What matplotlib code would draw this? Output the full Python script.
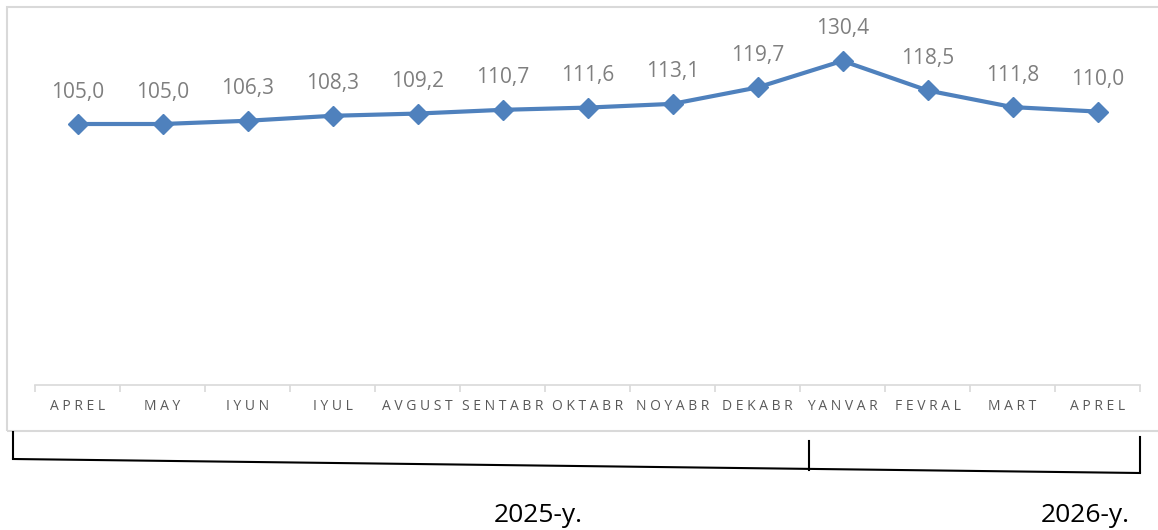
import matplotlib
matplotlib.use("Agg")
import matplotlib.pyplot as plt
from matplotlib.patches import Rectangle
from matplotlib.lines import Line2D

months = ["APREL", "MAY", "IYUN", "IYUL", "AVGUST", "SENTABR", "OKTABR",
          "NOYABR", "DEKABR", "YANVAR", "FEVRAL", "MART", "APREL"]
values = [105.0, 105.0, 106.3, 108.3, 109.2, 110.7, 111.6, 113.1, 119.7,
          130.4, 118.5, 111.8, 110.0]
years = ["2025-y.", "2026-y."]

W, H = 1158, 530
fig = plt.figure(figsize=(W / 100, H / 100), dpi=100)

def fx(px):
    return px / W

def fy(py):
    return 1 - py / H

# chart frame
fig.patches.append(Rectangle((fx(7), fy(431)), fx(1160) - fx(7), fy(7) - fy(431),
                             transform=fig.transFigure, fill=False,
                             edgecolor="#d9d9d9", linewidth=1.5))

ax = fig.add_axes([fx(35), fy(385), fx(1140) - fx(35), fy(37) - fy(385)])
x = list(range(len(values)))
ax.plot(x, values, color="#4F81BD", linewidth=3, marker="D", markersize=10,
        markeredgecolor="#4F81BD", markerfacecolor="#4F81BD", zorder=3)
for xi, v in zip(x, values):
    ax.annotate(f"{v:.1f}".replace(".", ","), (xi, v), xytext=(0, 23),
                textcoords="offset points", ha="center", va="center",
                fontsize=15, color="#7f7f7f", fontfamily="Open Sans")

ax.set_xlim(-0.5, len(values) - 0.5)
ax.set_ylim(0, 140)
ax.set_yticks([])
for s in ["top", "left", "right"]:
    ax.spines[s].set_visible(False)
ax.spines["bottom"].set_color("#d9d9d9")
ax.spines["bottom"].set_linewidth(1.2)
ax.set_xticks(x)
ax.set_xticklabels([" ".join(m) for m in months], fontsize=10, color="#595959",
                   fontfamily="Open Sans")
ax.tick_params(axis="x", which="major", length=0, pad=10)
ax.set_xticks([i - 0.5 for i in range(len(values) + 1)], minor=True)
ax.tick_params(axis="x", which="minor", length=5, color="#d9d9d9", width=1.2)
ax.set_facecolor("none")

# bracket lines below chart
lines = [
    ((13, 432), (13, 458)),
    ((13, 459), (1140, 473)),
    ((809, 441), (809, 470)),
    ((1140, 437), (1140, 472)),
]
for (x0, y0), (x1, y1) in lines:
    fig.add_artist(Line2D([fx(x0), fx(x1)], [fy(y0), fy(y1)],
                          transform=fig.transFigure, color="black", linewidth=1.5))

fig.text(fx(538), fy(516), years[0], ha="center", va="center", fontsize=19,
         fontfamily="Open Sans", color="black")
fig.text(fx(1085), fy(516), years[1], ha="center", va="center", fontsize=19,
         fontfamily="Open Sans", color="black")

fig.savefig("out.png", dpi=100)
